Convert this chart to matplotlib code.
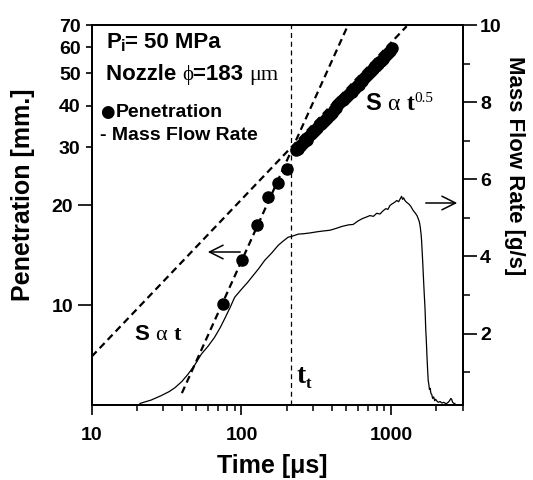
import matplotlib
matplotlib.use("Agg")
import matplotlib.pyplot as plt
import matplotlib.transforms as mtransforms
from matplotlib.ticker import FixedLocator, NullFormatter, FixedFormatter

# ---------------- data ----------------
pen_t = [75.5, 101, 126, 151, 176, 202, 233, 240, 245, 250, 257, 265, 272, 280,
         290, 300, 310, 320, 330, 340, 350, 360, 370, 380, 390, 400, 412, 425,
         437, 450, 462, 475, 487, 500, 515, 530, 545, 560, 575, 590, 605, 620,
         635, 650, 670, 690, 710, 730, 750, 770, 790, 810, 830, 850, 875, 900,
         925, 950, 975, 1007]
pen_S = [10.1, 13.7, 17.5, 21.2, 23.3, 25.8, 29.4, 29.6, 30.2, 30.4, 30.9, 31.3,
         31.6, 32.1, 32.8, 33.2, 33.8, 34.2, 34.9, 35.3, 35.6, 36.2, 36.8, 37.2,
         37.5, 38.1, 38.9, 39.4, 40.2, 40.6, 41.2, 41.6, 41.9, 42.4, 43.1, 43.6,
         44.1, 44.8, 45.3, 45.9, 46.3, 47.0, 47.6, 48.1, 48.7, 49.5, 50.1, 50.9,
         51.4, 52.2, 52.8, 53.5, 54.0, 54.7, 55.4, 56.2, 56.8, 57.7, 58.5, 59.7]

mfr_t = [21, 25, 29, 33, 36, 40, 44, 49, 54, 60, 66, 72, 78, 84, 90, 100, 110,
         117, 130, 143, 160, 176, 190, 205, 216, 240, 260, 287, 320, 350, 390,
         430, 470, 520, 557, 600, 640, 680, 721, 760, 800, 841, 880, 920, 950,
         980, 1010, 1050, 1090, 1120, 1150, 1172, 1190, 1210, 1234, 1270, 1310,
         1350, 1402, 1450, 1490, 1514, 1540, 1560, 1580, 1594, 1610, 1625, 1636,
         1650, 1665, 1679, 1690, 1700, 1711, 1722, 1735, 1750, 1766, 1780, 1800,
         1820, 1840, 1862, 1890, 1920, 1950, 1980, 2010, 2060, 2120, 2180, 2240,
         2300, 2344, 2400, 2450, 2500, 2530, 2570, 2620, 2660]
mfr_v = [0.19, 0.28, 0.39, 0.50, 0.60, 0.76, 0.95, 1.20, 1.47, 1.68, 1.90, 2.15,
         2.42, 2.68, 2.94, 3.15, 3.33, 3.46, 3.68, 3.90, 4.10, 4.29, 4.40, 4.50,
         4.52, 4.58, 4.59, 4.61, 4.64, 4.66, 4.68, 4.73, 4.78, 4.82, 4.83, 4.92,
         4.98, 5.02, 5.06, 5.04, 5.12, 5.10, 5.18, 5.24, 5.22, 5.32, 5.36, 5.40,
         5.45, 5.42, 5.50, 5.56, 5.48, 5.52, 5.45, 5.40, 5.36, 5.30, 5.19, 5.12,
         5.05, 4.98, 4.90, 4.78, 4.60, 4.42, 4.10, 3.80, 3.55, 3.25, 2.95, 2.69,
         2.40, 2.10, 1.90, 1.65, 1.35, 1.05, 0.78, 0.70, 0.55, 0.58, 0.45, 0.43,
         0.32, 0.36, 0.26, 0.30, 0.26, 0.22, 0.24, 0.20, 0.22, 0.19, 0.19, 0.22,
         0.26, 0.32, 0.30, 0.22, 0.19, 0.19]

fit_lin_t = [40, 515]      # S ~ t
fit_lin_S = [5.43, 70]
fit_sqrt_t = [10, 1268]    # S ~ t^0.5
fit_sqrt_S = [7.0, 69.4]

t_trans = 214

x_ticks = [10, 100, 1000]
x_ticklabels = ["10", "100", "1000"]
y_ticks_major = [10, 20]
y_ticks_minor = [30, 40, 50, 60, 70]
r_ticks_major = [2, 4, 6, 8, 10]
r_ticks_minor = [1, 3, 5, 7, 9]

# ---------------- figure ----------------
SANS = ["Liberation Sans", "DejaVu Sans"]
SERIF = ["Liberation Serif", "DejaVu Serif"]
plt.rcParams["font.family"] = SANS
plt.rcParams["font.weight"] = "bold"

fig = plt.figure(figsize=(5.33, 4.80), dpi=100)
L, R, T, B = 91.7, 462.7, 25.0, 405.0
W, H = 533.0, 480.0
ax = fig.add_axes([L / W, 1 - B / H, (R - L) / W, (B - T) / H])
ax2 = ax.twinx()

ax.set_xscale("log")
ax.set_yscale("log")
ax.set_xlim(10, 3000)
ax.set_ylim(5, 70)
ax2.set_ylim(0.15, 10)

# fits
ax.plot(fit_lin_t, fit_lin_S, color="black", lw=1.6, ls=(0, (3.2, 2.0)), zorder=3)
ax.plot(fit_sqrt_t, fit_sqrt_S, color="black", lw=1.6, ls=(0, (3.2, 2.0)), zorder=3)
# penetration points
ax.plot(pen_t, pen_S, "o", color="black", ms=8, zorder=4)
# transition time
ax.axvline(t_trans, color="black", lw=0.9, ls=(0, (4, 3)), zorder=2)
# mass flow rate
ax2.plot(mfr_t, mfr_v, color="black", lw=0.9)

# ticks
ax.xaxis.set_major_locator(FixedLocator(x_ticks))
ax.xaxis.set_major_formatter(FixedFormatter(x_ticklabels))
ax.yaxis.set_major_locator(FixedLocator(y_ticks_major))
ax.yaxis.set_major_formatter(FixedFormatter([str(v) for v in y_ticks_major]))
ax.yaxis.set_minor_locator(FixedLocator(y_ticks_minor))
ax.yaxis.set_minor_formatter(FixedFormatter([str(v) for v in y_ticks_minor]))
ax2.yaxis.set_major_locator(FixedLocator(r_ticks_major))
ax2.yaxis.set_major_formatter(FixedFormatter([str(v) for v in r_ticks_major]))
ax2.yaxis.set_minor_locator(FixedLocator(r_ticks_minor))
ax2.yaxis.set_minor_formatter(NullFormatter())

ax.tick_params(axis="x", which="major", direction="out", length=7.5, width=1.2,
               pad=8, labelsize=14)
ax.tick_params(axis="x", which="minor", direction="out", length=4.5, width=1.1)
ax.tick_params(axis="y", which="major", direction="out", length=10, width=1.2,
               pad=3.5, labelsize=14)
ax.tick_params(axis="y", which="minor", direction="out", length=4.5, width=1.2,
               pad=3.5, labelsize=14)
ax2.tick_params(axis="y", which="major", direction="out", length=10, width=1.2,
                pad=2.5, labelsize=14)
ax2.tick_params(axis="y", which="minor", direction="out", length=5, width=1.1)
for a in (ax, ax2):
    for sp in a.spines.values():
        sp.set_linewidth(1.3)
for lab in ax.get_xticklabels() + ax.get_yticklabels(which="both") + ax2.get_yticklabels():
    lab.set_fontweight("bold")

# axis labels
fig.text(23 / W, 1 - 195 / H, "Penetration [mm.]", rotation=90, ha="center",
         va="center", fontsize=18, fontweight="bold")
fig.text(514 / W, 1 - 166 / H, "Mass Flow Rate [g/s]", rotation=270, ha="center",
         va="center", fontsize=16, fontweight="bold")
fig.text(272 / W, 1 - 466 / H, "Time [\u03bcs]", ha="center", va="center",
         fontsize=18, fontweight="bold")

renderer = fig.canvas.get_renderer()


def rainbow(x, y, pieces):
    base = ax.transAxes
    xoff = 0.0
    for s, kw in pieces:
        dy = kw.pop("dy", 0)
        tr = mtransforms.offset_copy(base, fig=fig, x=xoff, y=dy, units="dots")
        txt = ax.text(x, y, s, transform=tr, va="baseline", ha="left", **kw)
        ex = txt.get_window_extent(renderer=renderer)
        xoff += ex.width


def ax_x(px):
    return (px - L) / (R - L)


def ax_y(py):
    return (B - py) / (B - T)


rainbow(ax_x(106), ax_y(48.3), [
    ("P", dict(fontsize=16, fontweight="bold")),
    ("i", dict(fontsize=12, fontweight="bold", dy=-3)),
    ("= 50 MPa", dict(fontsize=16, fontweight="bold")),
])
rainbow(ax_x(106), ax_y(80), [
    ("Nozzle ", dict(fontsize=16, fontweight="bold")),
    ("\u03d5", dict(fontsize=15, fontweight="normal", family=SERIF)),
    ("=183 ", dict(fontsize=16, fontweight="bold")),
    ("\u03bcm", dict(fontsize=16, fontweight="normal", family=SERIF)),
])
ax.text(ax_x(100), ax_y(117), "\u25cf", fontsize=12, family=["DejaVu Sans"],
        va="baseline", ha="left", transform=ax.transAxes)
ax.text(ax_x(116), ax_y(117), "Penetration", fontsize=14, fontweight="bold",
        va="baseline", ha="left", transform=ax.transAxes)
ax.text(ax_x(100), ax_y(140), "- Mass Flow Rate", fontsize=14, fontweight="bold",
        va="baseline", ha="left", transform=ax.transAxes)

rainbow(ax_x(366), ax_y(109.5), [
    ("S ", dict(fontsize=17, fontweight="bold")),
    ("\u03b1 ", dict(fontsize=17, fontweight="normal", family=SERIF)),
    ("t", dict(fontsize=17, fontweight="bold", family=SERIF)),
    ("0.5", dict(fontsize=11, fontweight="normal", family=SERIF, dy=8)),
])
rainbow(ax_x(135), ax_y(340), [
    ("S ", dict(fontsize=16, fontweight="bold")),
    ("\u03b1 ", dict(fontsize=16, fontweight="normal", family=SERIF)),
    ("t", dict(fontsize=16, fontweight="bold", family=SERIF)),
])
rainbow(ax_x(296), ax_y(383), [
    ("t", dict(fontsize=20, fontweight="bold", family=SERIF)),
    ("t", dict(fontsize=12, fontweight="bold", family=SERIF, dy=-5)),
])

# arrows
arrow_kw = dict(arrowstyle="->,head_length=0.7,head_width=0.35", lw=1.1,
                color="black", mutation_scale=14)
ax.annotate("", xy=(ax_x(205), ax_y(252)), xytext=(ax_x(243), ax_y(252)),
            xycoords="axes fraction", textcoords="axes fraction",
            arrowprops=arrow_kw)
ax.annotate("", xy=(ax_x(460), ax_y(203)), xytext=(ax_x(423), ax_y(203)),
            xycoords="axes fraction", textcoords="axes fraction",
            arrowprops=arrow_kw)

fig.savefig("out.png", dpi=100)
